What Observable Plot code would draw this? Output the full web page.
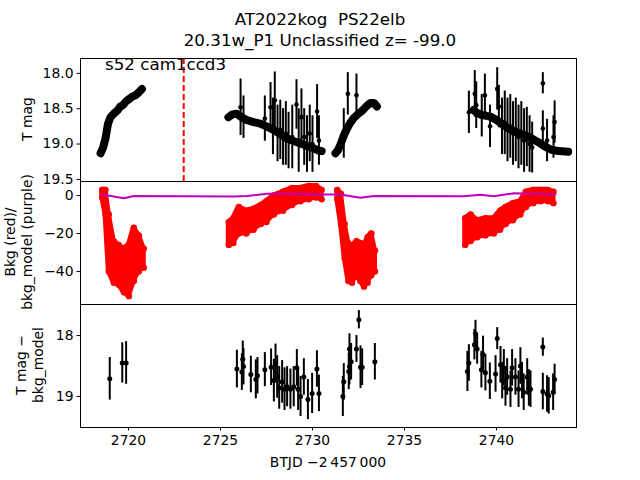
<!DOCTYPE html>
<html>
<head>
<meta charset="utf-8">
<script src="https://cdn.jsdelivr.net/npm/d3@7"></script>
<script src="https://cdn.jsdelivr.net/npm/@observablehq/plot@0.6"></script>
<style>
  html, body { margin: 0; padding: 0; background: white; }
  #fig { position: relative; width: 640px; height: 480px; overflow: hidden; background: white; font-family: "DejaVu Sans", sans-serif; color: black; }
  .abs { position: absolute; white-space: pre; }
  .vlab { position: absolute; white-space: nowrap; font-size: 13.9px; transform: translate(-50%, -50%) rotate(-90deg); text-align: center; line-height: 17px; }
  svg { position: absolute; }
</style>
</head>
<body>
<div id="fig"></div>
<script>
// ---------- data ----------
const title1 = "AT2022kog  PS22elb";
const title2 = "20.31w_P1 Unclassified z= -99.0";
const fieldLabel = "s52 cam1ccd3";
const xTicks = [2720, 2725, 2730, 2735, 2740];
const magTicks = [18.0, 18.5, 19.0, 19.5];
const bkgTicks = [0, -20, -40];
const diffTicks = [18, 19];
const markerTime = 2723.0;

// Panel 1: dense light-curve bands (time, T mag)
const bandA = [[2718.48,19.13],[2718.62,19.05],[2718.75,18.92],[2718.88,18.72],[2719.02,18.62],[2719.2,18.57],[2719.38,18.53],[2719.55,18.47],[2719.7,18.45],[2719.85,18.40],[2720.0,18.37],[2720.2,18.33],[2720.38,18.31],[2720.55,18.27],[2720.73,18.22]];
const bandB = [[2725.43,18.62],[2725.65,18.58],[2725.88,18.57],[2726.15,18.62],[2726.42,18.66],[2726.8,18.69],[2727.15,18.71],[2727.5,18.75],[2727.88,18.80],[2728.25,18.86],[2728.6,18.92],[2729.0,18.96],[2729.35,18.99],[2729.7,19.03],[2730.07,19.06],[2730.3,19.09],[2730.5,19.10]];
const bandC = [[2731.25,19.13],[2731.4,19.08],[2731.52,19.01],[2731.7,18.88],[2731.88,18.78],[2732.05,18.70],[2732.25,18.63],[2732.5,18.57],[2732.7,18.53],[2732.95,18.46],[2733.15,18.42],[2733.35,18.42],[2733.5,18.47]];
const bandD = [[2738.75,18.52],[2738.95,18.56],[2739.2,18.59],[2739.45,18.60],[2739.73,18.62],[2740.0,18.66],[2740.27,18.71],[2740.55,18.76],[2740.8,18.80],[2741.15,18.84],[2741.5,18.87],[2741.9,18.92],[2742.25,18.97],[2742.6,19.03],[2742.97,19.08],[2743.4,19.10],[2743.9,19.11]];
// Panel 1: points with large errors (time, T mag, err)
const noisyMag = [
  [2726.09,18.48,0.4],[2726.25,18.62,0.3],[2727.41,18.64,0.32],[2727.72,18.48,0.35],[2727.85,18.75,0.4],
  [2727.95,18.38,0.4],[2728.1,18.85,0.4],[2728.25,18.8,0.42],[2728.4,18.9,0.4],[2728.55,18.85,0.45],
  [2728.7,18.95,0.4],[2728.9,18.9,0.45],[2729.13,18.44,0.35],[2729.25,18.95,0.45],[2729.4,18.62,0.4],
  [2729.55,18.9,0.4],[2729.7,19.0,0.4],[2729.85,18.85,0.4],[2730.0,19.0,0.4],[2730.25,18.54,0.38],[2730.35,18.95,0.35],
  [2731.7,18.85,0.35],[2731.92,18.29,0.3],[2732.39,18.31,0.3],
  [2738.5,18.55,0.3],[2738.82,18.29,0.33],[2738.9,18.45,0.33],[2739.2,18.6,0.3],[2739.37,18.31,0.3],
  [2739.65,18.75,0.3],[2740.04,18.22,0.3],[2740.13,18.47,0.3],[2740.3,18.75,0.4],[2740.45,18.7,0.45],
  [2740.6,18.8,0.45],[2740.75,18.75,0.45],[2740.9,18.85,0.45],[2741.05,18.8,0.45],[2741.2,18.9,0.45],
  [2741.35,18.85,0.45],[2741.5,18.95,0.45],[2741.65,18.9,0.42],[2741.8,19.0,0.4],[2741.94,19.05,0.36],
  [2742.52,18.14,0.15],[2742.52,18.78,0.25],[2742.75,18.95,0.3],[2743.1,18.9,0.3],[2743.16,18.69,0.3]
];

// Panel 2: background flux envelopes (time, low, high)
const bkgA = [[2718.57,-1,3],[2718.75,-10,3],[2718.93,-40,-10],[2719.2,-46,-24],[2719.47,-47,-26],[2719.75,-51,-28],[2720.02,-53,-26],[2720.29,-45,-17],[2720.56,-40,-21],[2720.83,-38,-28]];
const bkgB = [[2725.45,-26,-14],[2725.7,-25,-12],[2726.0,-20,-6],[2726.4,-20,-8],[2726.8,-18,-7],[2727.2,-15,-5],[2727.5,-14,-3],[2727.9,-10,0],[2728.4,-8,2],[2728.9,-5,4],[2729.35,-3,4],[2729.8,-2,5],[2730.2,-1,5],[2730.5,-2,3]];
const bkgC = [[2731.35,-2,3],[2731.55,-15,1],[2731.75,-33,-15],[2731.95,-45,-25],[2732.15,-46,-27],[2732.4,-42,-24],[2732.6,-45,-25],[2732.8,-48,-27],[2733.0,-46,-22],[2733.2,-42,-20],[2733.4,-40,-29]];
const bkgD = [[2738.3,-26,-12],[2738.6,-24,-10],[2738.95,-22,-13],[2739.4,-21,-12],[2739.86,-20,-12],[2740.2,-18,-8],[2740.5,-15,-6],[2740.9,-13,-4],[2741.3,-10,-3],[2741.6,-6,2],[2742.0,-4,3],[2742.4,-3,3],[2742.8,-3,3],[2743.1,-4,2]];
// Panel 2: background model (time, value)
const bkgModel = [[2718.57,0.5],[2719.2,-0.5],[2719.75,-1.4],[2720.29,-0.2],[2725.72,-0.5],[2726.45,-0.2],[2727.54,0.9],[2728.62,0.9],[2730.5,0.6],[2731.52,0.5],[2732.6,-1.2],[2733.33,-0.3],[2738.22,-0.4],[2739.13,0.4],[2739.85,-0.4],[2740.94,1.2],[2742.0,1.0],[2743.2,0.5]];

// Panel 3: T mag - bkg_model (time, mag, err)
const diffMag = [
  [2718.98,18.71,0.35],[2719.66,18.45,0.33],[2719.87,18.45,0.35],
  [2725.89,18.55,0.31],[2726.16,18.60,0.3],[2726.21,18.39,0.3],[2726.25,18.51,0.3],[2726.65,18.64,0.3],
  [2726.92,18.72,0.32],[2727.01,18.66,0.3],[2727.41,18.56,0.28],[2727.75,18.52,0.3],[2727.9,18.74,0.35],
  [2727.99,18.46,0.32],[2728.08,18.68,0.35],[2728.19,18.86,0.35],[2728.35,18.76,0.35],[2728.48,18.88,0.35],
  [2728.62,18.84,0.33],[2728.8,18.88,0.33],[2728.98,18.84,0.33],[2729.15,18.53,0.3],[2729.22,18.88,0.35],
  [2729.35,19.0,0.33],[2729.53,18.68,0.3],[2729.75,19.05,0.33],[2729.98,18.95,0.33],[2730.24,18.55,0.3],[2730.35,18.95,0.3],
  [2731.65,19.0,0.33],[2731.7,18.76,0.3],[2731.97,18.59,0.3],[2732.01,18.51,0.3],[2732.01,18.22,0.25],
  [2732.1,18.43,0.3],[2732.39,18.22,0.22],[2732.52,17.74,0.15],[2732.61,18.52,0.35],[2732.7,18.52,0.3],[2733.39,18.43,0.3],
  [2738.42,18.59,0.33],[2738.5,18.45,0.3],[2738.8,18.15,0.25],[2738.86,17.97,0.22],[2738.95,18.22,0.25],
  [2739.18,18.56,0.3],[2739.27,18.31,0.3],[2739.4,18.61,0.3],[2739.64,18.75,0.3],[2739.95,18.63,0.3],
  [2740.04,18.05,0.18],[2740.22,18.48,0.3],[2740.31,18.74,0.3],[2740.4,18.53,0.3],[2740.49,18.86,0.3],
  [2740.58,18.68,0.3],[2740.76,18.88,0.3],[2740.85,18.53,0.3],[2741.03,18.68,0.3],[2741.2,18.88,0.3],
  [2741.3,18.5,0.3],[2741.39,18.74,0.3],[2741.48,18.93,0.3],[2741.67,18.68,0.3],[2741.76,18.86,0.3],
  [2741.85,18.88,0.3],[2742.52,18.19,0.15],[2742.52,18.92,0.3],[2742.75,18.96,0.3],[2742.84,18.99,0.3],
  [2743.08,18.93,0.3],[2743.16,18.72,0.25]
];

// ---------- layout ----------
const fig = document.getElementById("fig");
const xDomain = [2717.39, 2744.35];
const common = {
  width: 640, marginLeft: 80, marginRight: 64, marginTop: 10,
  style: { fontFamily: "DejaVu Sans", fontSize: "13.9px", color: "black", background: "transparent", overflow: "visible" }
};
function place(svg, top) { svg.style.left = "0px"; svg.style.top = top + "px"; fig.appendChild(svg); }
function div(cls, text, css) { const d = document.createElement("div"); d.className = cls; d.textContent = text; Object.assign(d.style, css); fig.appendChild(d); return d; }

const X = d => d[0], Y = d => d[1];
const bandMark = arr => Plot.line(arr, { x: X, y: Y, stroke: "black", strokeWidth: 8, strokeLinecap: "round", strokeLinejoin: "round", clip: true });
const errRule = (arr, w) => Plot.ruleX(arr, { x: X, y1: d => d[1] - d[2], y2: d => d[1] + d[2], stroke: "black", strokeWidth: w, clip: true });
const bkgArea = arr => Plot.areaY(arr, { x: X, y1: d => d[1], y2: d => d[2], fill: "red", stroke: "red", strokeWidth: 5, strokeLinejoin: "round", clip: true });
const bkgEdge = (arr, i) => Plot.dot(arr, { x: X, y: d => d[i], r: 3.2, fill: "red", clip: true });

// Panel 1
const p1 = Plot.plot({
  ...common, height: 143, marginBottom: 10,
  x: { domain: xDomain, axis: null },
  y: { domain: [17.79, 19.53], reverse: true, ticks: magTicks, tickFormat: d3.format(".1f"), tickSize: 3.5, tickPadding: 3.5, label: null },
  marks: [
    bandMark(bandA), bandMark(bandB), bandMark(bandC), bandMark(bandD),
    errRule(noisyMag, 2),
    Plot.dot(noisyMag, { x: X, y: Y, r: 2.3, fill: "black", clip: true }),
    Plot.ruleX([markerTime], { stroke: "#ff0000", strokeWidth: 2, strokeDasharray: "6,3" }),
    Plot.frame({ stroke: "black" })
  ]
});
place(p1, 48);

// Panel 2
const p2 = Plot.plot({
  ...common, height: 143, marginBottom: 10,
  x: { domain: xDomain, axis: null },
  y: { domain: [-57.4, 7.4], ticks: bkgTicks, tickFormat: d => d === 0 ? "0" : "\u2212" + Math.abs(d), tickSize: 3.5, tickPadding: 3.5, label: null },
  marks: [
    bkgArea(bkgA), bkgArea(bkgB), bkgArea(bkgC), bkgArea(bkgD),
    bkgEdge(bkgA, 1), bkgEdge(bkgA, 2), bkgEdge(bkgB, 1), bkgEdge(bkgB, 2),
    bkgEdge(bkgC, 1), bkgEdge(bkgC, 2), bkgEdge(bkgD, 1), bkgEdge(bkgD, 2),
    Plot.line(bkgModel, { x: X, y: Y, stroke: "#bf00bf", strokeWidth: 2, clip: true }),
    Plot.frame({ stroke: "black" })
  ]
});
place(p2, 171);

// Panel 3
const p3 = Plot.plot({
  ...common, height: 176, marginBottom: 43,
  x: { domain: xDomain, ticks: xTicks, tickFormat: d => String(d), tickSize: 3.5, tickPadding: 4, label: null },
  y: { domain: [17.49, 19.51], reverse: true, ticks: diffTicks, tickFormat: d => String(d), tickSize: 3.5, tickPadding: 3.5, label: null },
  marks: [
    errRule(diffMag, 2),
    Plot.dot(diffMag, { x: X, y: Y, r: 2.5, fill: "black", clip: true }),
    Plot.frame({ stroke: "black" })
  ]
});
place(p3, 294);

// Titles and labels
div("abs", title1, { left: "0px", width: "640px", top: "9px", textAlign: "center", fontSize: "16.7px", lineHeight: "21px" });
div("abs", title2, { left: "0px", width: "640px", top: "30px", textAlign: "center", fontSize: "16.7px", lineHeight: "21px" });
div("abs", fieldLabel, { left: "105px", top: "54px", fontSize: "16.7px", lineHeight: "20px" });
div("vlab", "T mag", { left: "27px", top: "119px" });
const l2 = div("vlab", "", { left: "19px", top: "242px" });
l2.innerHTML = "Bkg (red)/<br>bkg_model (purple)";
const l3 = div("vlab", "", { left: "30px", top: "365px" });
l3.innerHTML = "T mag \u2212<br>bkg_model";
div("abs", "BTJD \u22122\u2009457\u2009000", { left: "0px", width: "656px", top: "454px", textAlign: "center", fontSize: "13.9px" });
</script>
</body>
</html>
